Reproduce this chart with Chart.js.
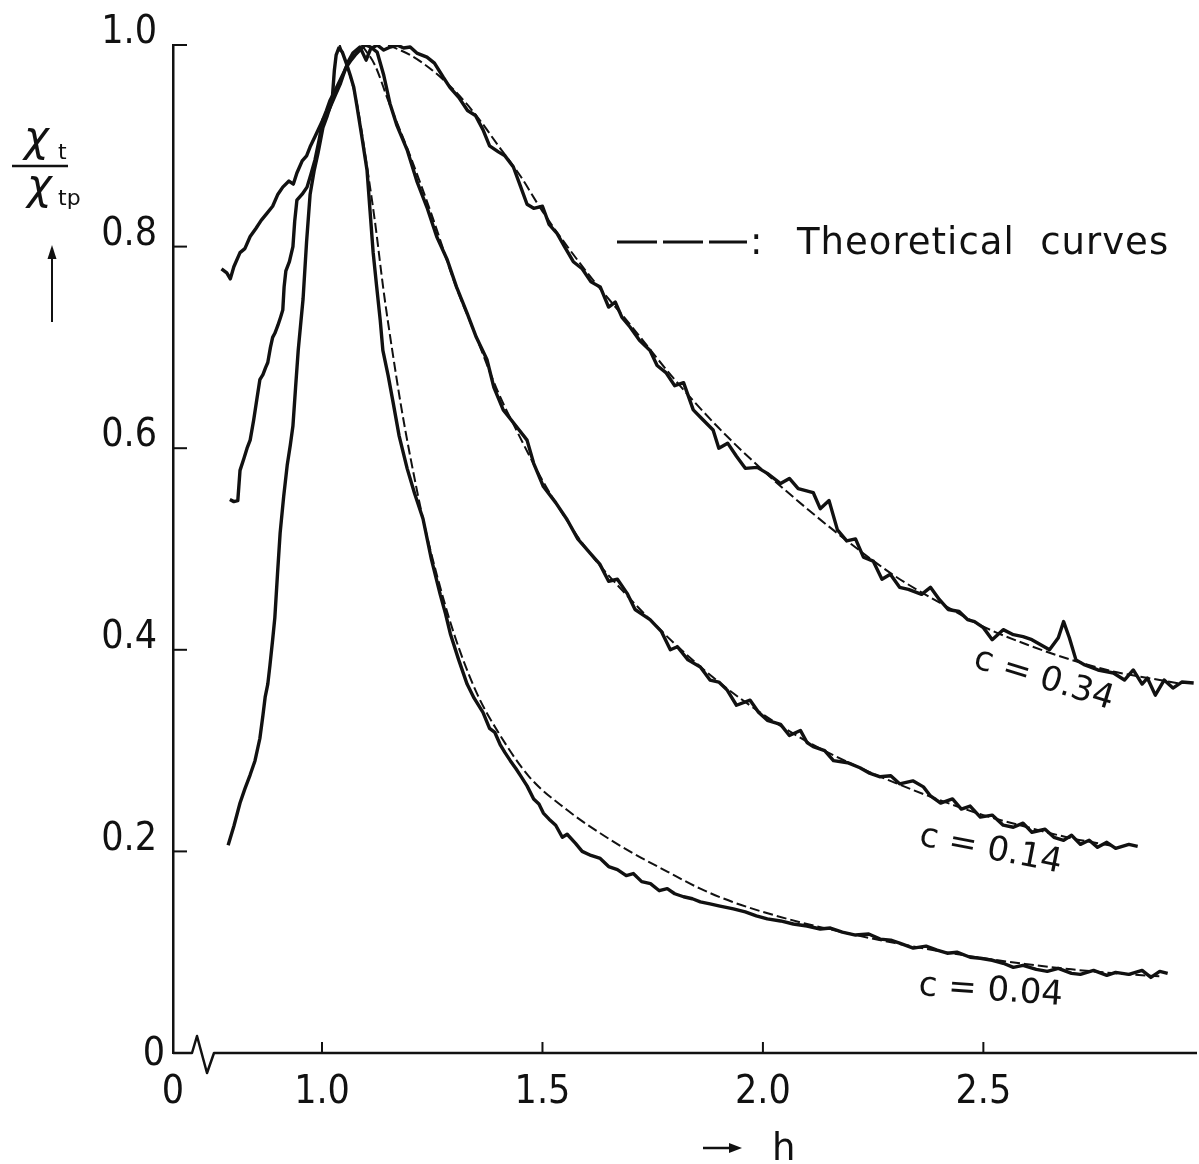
<!DOCTYPE html>
<html lang="en">
<head>
<meta charset="UTF-8">
<title>Normalised transverse susceptibility vs h</title>
<style>
  body { margin: 0; background: #fff; }
  #wrap { width: 1199px; height: 1164px; }
</style>
</head>
<body>
<div id="wrap"><canvas id="chiChart" width="1199" height="1164"></canvas></div>

<script src="https://cdn.jsdelivr.net/npm/chart.js"></script>
<script>
// axis values (x axis is broken: its left end is labelled 0)
const xMin = 0.662;
const xMax = 2.98;
const xTickVals = [1.0, 1.5, 2.0, 2.5];
const yTickVals = [0, 0.2, 0.4, 0.6, 0.8, 1.0];
const curveLabels = ['c = 0.04', 'c = 0.14', 'c = 0.34'];

// measured curves, [h, chi_t / chi_tp]
const exp004 = [[0.787,0.206],[0.80,0.225],[0.814,0.248],[0.825,0.262],[0.837,0.276],[0.848,0.29],[0.859,0.312],[0.866,0.335],[0.871,0.353],[0.877,0.366],[0.882,0.385],[0.888,0.41],[0.893,0.432],[0.899,0.475],[0.905,0.516],[0.913,0.552],[0.921,0.583],[0.928,0.603],[0.934,0.622],[0.94,0.66],[0.946,0.697],[0.952,0.725],[0.957,0.748],[0.965,0.805],[0.973,0.852],[0.982,0.875],[0.991,0.893],[1.002,0.918],[1.012,0.93],[1.023,0.945],[1.028,0.975],[1.032,0.99],[1.038,0.997],[1.046,0.993],[1.055,0.982],[1.064,0.97],[1.072,0.958],[1.079,0.94],[1.09,0.91],[1.102,0.876],[1.109,0.835],[1.116,0.794],[1.124,0.76],[1.132,0.727],[1.138,0.697],[1.15,0.672],[1.161,0.646],[1.175,0.612],[1.193,0.58],[1.21,0.555],[1.229,0.53],[1.248,0.49],[1.268,0.455],[1.28,0.436],[1.291,0.416],[1.31,0.39],[1.329,0.366],[1.345,0.352],[1.365,0.338],[1.38,0.322],[1.392,0.318],[1.404,0.306],[1.415,0.298],[1.427,0.29],[1.44,0.282],[1.452,0.274],[1.465,0.265],[1.48,0.252],[1.492,0.247],[1.502,0.238],[1.515,0.232],[1.53,0.226],[1.545,0.214],[1.556,0.217],[1.575,0.208],[1.59,0.2],[1.61,0.196],[1.631,0.193],[1.65,0.185],[1.67,0.182],[1.69,0.176],[1.706,0.178],[1.725,0.17],[1.745,0.168],[1.765,0.161],[1.783,0.163],[1.8,0.158],[1.82,0.155],[1.84,0.153],[1.858,0.15],[1.88,0.148],[1.9,0.146],[1.933,0.143],[1.96,0.14],[1.985,0.136],[2.01,0.133],[2.04,0.131],[2.069,0.128],[2.1,0.126],[2.13,0.123],[2.153,0.124],[2.18,0.12],[2.21,0.117],[2.24,0.118],[2.266,0.113],[2.29,0.112],[2.31,0.109],[2.341,0.104],[2.37,0.106],[2.395,0.102],[2.418,0.099],[2.44,0.1],[2.47,0.095],[2.493,0.094],[2.52,0.092],[2.545,0.089],[2.568,0.085],[2.59,0.087],[2.62,0.083],[2.645,0.081],[2.67,0.084],[2.7,0.079],[2.72,0.078],[2.75,0.082],[2.78,0.077],[2.8,0.08],[2.83,0.078],[2.86,0.082],[2.88,0.075],[2.9,0.081],[2.918,0.079]];

const exp014 = [[0.791,0.549],[0.80,0.547],[0.809,0.548],[0.814,0.578],[0.823,0.59],[0.83,0.6],[0.837,0.608],[0.845,0.628],[0.852,0.648],[0.859,0.668],[0.866,0.673],[0.872,0.68],[0.877,0.685],[0.883,0.7],[0.888,0.71],[0.893,0.714],[0.9,0.722],[0.906,0.73],[0.911,0.737],[0.914,0.76],[0.918,0.776],[0.926,0.785],[0.934,0.8],[0.938,0.825],[0.943,0.846],[0.955,0.852],[0.966,0.859],[0.975,0.872],[0.984,0.886],[0.993,0.905],[1.002,0.926],[1.01,0.935],[1.018,0.945],[1.03,0.955],[1.041,0.965],[1.055,0.978],[1.066,0.985],[1.075,0.99],[1.086,0.995],[1.098,1.0],[1.11,0.998],[1.125,0.993],[1.14,0.97],[1.154,0.942],[1.17,0.92],[1.193,0.896],[1.215,0.865],[1.238,0.839],[1.26,0.81],[1.284,0.787],[1.305,0.76],[1.329,0.734],[1.35,0.71],[1.374,0.688],[1.39,0.66],[1.411,0.638],[1.44,0.622],[1.465,0.608],[1.48,0.585],[1.502,0.562],[1.53,0.546],[1.556,0.529],[1.58,0.51],[1.608,0.496],[1.63,0.485],[1.65,0.468],[1.67,0.47],[1.692,0.456],[1.71,0.44],[1.744,0.43],[1.77,0.418],[1.79,0.4],[1.806,0.403],[1.83,0.39],[1.858,0.383],[1.88,0.37],[1.9,0.368],[1.919,0.36],[1.94,0.345],[1.971,0.35],[1.99,0.338],[2.01,0.33],[2.04,0.326],[2.06,0.315],[2.085,0.32],[2.1,0.308],[2.114,0.304],[2.14,0.3],[2.16,0.29],[2.192,0.288],[2.22,0.283],[2.24,0.278],[2.266,0.274],[2.29,0.275],[2.31,0.267],[2.34,0.27],[2.364,0.264],[2.38,0.255],[2.403,0.248],[2.43,0.252],[2.45,0.242],[2.47,0.245],[2.493,0.234],[2.52,0.236],[2.545,0.226],[2.568,0.224],[2.59,0.228],[2.61,0.219],[2.64,0.222],[2.66,0.214],[2.682,0.211],[2.7,0.216],[2.72,0.207],[2.74,0.211],[2.759,0.204],[2.78,0.209],[2.8,0.203],[2.83,0.207],[2.85,0.205]];

const exp034 = [[0.772,0.778],[0.784,0.774],[0.792,0.768],[0.8,0.78],[0.814,0.794],[0.825,0.798],[0.837,0.81],[0.85,0.818],[0.862,0.826],[0.875,0.833],[0.888,0.84],[0.9,0.852],[0.911,0.859],[0.925,0.865],[0.935,0.862],[0.943,0.873],[0.955,0.885],[0.965,0.89],[0.973,0.899],[0.985,0.91],[1.002,0.926],[1.015,0.935],[1.03,0.95],[1.042,0.962],[1.052,0.975],[1.06,0.984],[1.07,0.992],[1.086,0.998],[1.1,0.985],[1.11,0.996],[1.125,1.0],[1.14,0.995],[1.155,0.998],[1.17,1.0],[1.185,0.997],[1.2,0.998],[1.215,0.992],[1.238,0.988],[1.255,0.982],[1.275,0.968],[1.29,0.958],[1.31,0.948],[1.33,0.935],[1.348,0.93],[1.365,0.916],[1.38,0.9],[1.4,0.894],[1.415,0.89],[1.434,0.879],[1.45,0.86],[1.465,0.842],[1.48,0.838],[1.5,0.84],[1.515,0.822],[1.533,0.813],[1.55,0.8],[1.57,0.785],[1.59,0.778],[1.61,0.765],[1.631,0.76],[1.65,0.74],[1.665,0.745],[1.68,0.73],[1.699,0.72],[1.72,0.707],[1.744,0.697],[1.76,0.682],[1.78,0.675],[1.8,0.662],[1.82,0.665],[1.842,0.638],[1.86,0.63],[1.887,0.618],[1.9,0.6],[1.92,0.605],[1.94,0.592],[1.96,0.58],[1.987,0.581],[2.01,0.575],[2.04,0.565],[2.06,0.57],[2.08,0.56],[2.114,0.556],[2.13,0.54],[2.15,0.548],[2.169,0.519],[2.19,0.508],[2.21,0.51],[2.228,0.492],[2.25,0.488],[2.27,0.47],[2.289,0.475],[2.31,0.462],[2.33,0.46],[2.36,0.455],[2.38,0.462],[2.4,0.45],[2.42,0.44],[2.445,0.438],[2.464,0.43],[2.48,0.428],[2.5,0.422],[2.52,0.41],[2.545,0.42],[2.568,0.415],[2.59,0.413],[2.61,0.41],[2.63,0.405],[2.65,0.4],[2.67,0.412],[2.682,0.428],[2.695,0.412],[2.71,0.39],[2.73,0.385],[2.76,0.38],[2.795,0.377],[2.82,0.37],[2.84,0.38],[2.86,0.366],[2.872,0.372],[2.89,0.355],[2.91,0.37],[2.93,0.362],[2.95,0.368],[2.977,0.367]];

// theoretical curves (dashed)
const th004 = [[1.04,1.0],[1.06,0.975],[1.08,0.94],[1.1,0.885],[1.12,0.825],[1.14,0.755],[1.16,0.695],[1.18,0.64],[1.2,0.592],[1.23,0.528],[1.26,0.475],[1.3,0.415],[1.35,0.358],[1.4,0.318],[1.47,0.274],[1.556,0.241],[1.631,0.218],[1.706,0.198],[1.783,0.18],[1.858,0.163],[1.93,0.15],[2.0,0.14],[2.1,0.128],[2.2,0.118],[2.3,0.109],[2.4,0.101],[2.5,0.094],[2.6,0.088],[2.7,0.083],[2.8,0.079],[2.9,0.076]];
const th014 = [[1.09,1.0],[1.12,0.98],[1.15,0.945],[1.2,0.89],[1.25,0.83],[1.3,0.765],[1.35,0.71],[1.4,0.655],[1.45,0.61],[1.5,0.568],[1.55,0.532],[1.6,0.5],[1.7,0.45],[1.8,0.406],[1.9,0.368],[2.0,0.336],[2.1,0.309],[2.2,0.287],[2.3,0.268],[2.4,0.251],[2.5,0.236],[2.6,0.224],[2.7,0.213],[2.8,0.205]];
const th034 = [[1.15,1.0],[1.2,0.99],[1.25,0.975],[1.3,0.955],[1.35,0.93],[1.4,0.9],[1.45,0.87],[1.5,0.835],[1.6,0.775],[1.7,0.722],[1.8,0.668],[1.9,0.62],[2.0,0.578],[2.1,0.54],[2.2,0.505],[2.3,0.473],[2.4,0.447],[2.5,0.423],[2.6,0.405],[2.7,0.39],[2.8,0.378],[2.9,0.37],[2.95,0.366]];

const ink = '#111';
const numFont = "'Liberation Sans Narrow', 'DejaVu Sans Condensed', sans-serif";
const textFont = "'DejaVu Sans', sans-serif";

function toPts(arr) {
    return arr.map(p => ({ x: p[0], y: p[1] }));
}

function measured(arr) {
    return { data: toPts(arr), showLine: true, borderColor: ink, borderWidth: 3.4,
             pointRadius: 0, borderJoinStyle: 'round', tension: 0 };
}

function theory(arr) {
    return { data: toPts(arr), showLine: true, borderColor: ink, borderWidth: 2,
             borderDash: [10, 4], pointRadius: 0, cubicInterpolationMode: 'monotone' };
}

function line(ctx, x1, y1, x2, y2) {
    ctx.beginPath();
    ctx.moveTo(x1, y1);
    ctx.lineTo(x2, y2);
    ctx.stroke();
}

// axis break, inward ticks, titles and annotations
const decor = {
    id: 'decor',
    afterDraw(chart) {
        const { ctx, chartArea: a, scales: { x, y } } = chart;
        ctx.save();
        ctx.strokeStyle = ink;
        ctx.fillStyle = ink;
        ctx.lineWidth = 2.5;
        ctx.lineJoin = 'round';

        // x axis line with the break zigzag
        const by = a.bottom;
        ctx.beginPath();
        ctx.moveTo(a.left, by);
        ctx.lineTo(a.left + 19, by);
        ctx.lineTo(a.left + 24, by - 17);
        ctx.lineTo(a.left + 34, by + 20);
        ctx.lineTo(a.left + 41, by);
        ctx.lineTo(a.right + 2, by);
        ctx.stroke();

        // ticks point into the plot
        ctx.lineWidth = 2;
        yTickVals.forEach(v => {
            if (v === 0) return;
            const py = y.getPixelForValue(v);
            line(ctx, a.left, py, a.left + 14, py);
        });
        xTickVals.forEach(v => {
            const px = x.getPixelForValue(v);
            line(ctx, px, by, px, by - 11);
        });

        // y origin label
        ctx.font = '39px ' + numFont;
        ctx.textAlign = 'right';
        ctx.textBaseline = 'middle';
        ctx.fillText('0', a.left - 8, by + 2);

        // y title: chi_t / chi_tp with arrow
        ctx.textAlign = 'left';
        ctx.textBaseline = 'alphabetic';
        ctx.font = 'italic 42px ' + textFont;
        ctx.fillText('χ', 24, 151);
        ctx.fillText('χ', 27, 199);
        ctx.font = '22px ' + textFont;
        ctx.fillText('t', 58, 159);
        ctx.fillText('tp', 58, 205);
        ctx.lineWidth = 2.5;
        line(ctx, 12, 166, 68, 166);
        ctx.lineWidth = 2;
        line(ctx, 52, 322, 52, 254);
        ctx.beginPath();
        ctx.moveTo(52, 245);
        ctx.lineTo(47.5, 259);
        ctx.lineTo(56.5, 259);
        ctx.closePath();
        ctx.fill();

        // x title: -> h
        ctx.lineWidth = 2.5;
        line(ctx, 703, 1148, 732, 1148);
        ctx.beginPath();
        ctx.moveTo(742, 1148);
        ctx.lineTo(729, 1143);
        ctx.lineTo(729, 1153);
        ctx.closePath();
        ctx.fill();
        ctx.font = '37px ' + textFont;
        ctx.fillText('h', 772, 1160);

        // legend for dashed curves
        ctx.lineWidth = 3;
        ctx.setLineDash([40, 6]);
        line(ctx, 617, 242, 747, 242);
        ctx.setLineDash([]);
        ctx.font = '37px ' + textFont;
        ctx.fillText(':', 750, 254);
        ctx.letterSpacing = '1px';
        ctx.fillText('Theoretical  curves', 797, 254);
        ctx.letterSpacing = '0px';

        // curve labels, tilted along the curves
        const spots = [[918, 995, 4], [918, 845, 11], [972, 667, 17]];
        ctx.font = '34px ' + textFont;
        curveLabels.forEach((t, i) => {
            const [sx, sy, deg] = spots[i];
            ctx.save();
            ctx.translate(sx, sy);
            ctx.rotate(deg * Math.PI / 180);
            ctx.fillText(t, 0, 0);
            ctx.restore();
        });
        ctx.restore();
    }
};

new Chart(document.getElementById('chiChart'), {
    type: 'scatter',
    data: {
        datasets: [
            measured(exp004), measured(exp014), measured(exp034),
            theory(th004), theory(th014), theory(th034)
        ]
    },
    options: {
        responsive: false,
        animation: false,
        devicePixelRatio: 1,
        layout: { padding: { top: 45, right: 4, left: 0, bottom: 0 } },
        plugins: { legend: { display: false }, tooltip: { enabled: false } },
        scales: {
            x: {
                type: 'linear',
                min: xMin,
                max: xMax,
                afterBuildTicks: s => { s.ticks = [xMin, ...xTickVals].map(v => ({ value: v })); },
                afterFit: s => { s.height = 111; },
                grid: { display: false },
                border: { display: false },
                ticks: {
                    color: ink,
                    padding: 8,
                    maxRotation: 0,
                    autoSkip: false,
                    font: { family: numFont, size: 39 },
                    callback: v => (v === xMin ? '0' : v.toFixed(1))
                }
            },
            y: {
                min: 0,
                max: 1,
                afterBuildTicks: s => { s.ticks = yTickVals.map(v => ({ value: v })); },
                afterFit: s => { s.width = 173; },
                grid: { display: false },
                border: { display: true, color: ink, width: 2.5 },
                ticks: {
                    color: ink,
                    padding: 8,
                    labelOffset: -12,
                    font: { family: numFont, size: 39 },
                    callback: v => (v === 0 ? '' : v.toFixed(1))
                }
            }
        }
    },
    plugins: [decor]
});
</script>
</body>
</html>
